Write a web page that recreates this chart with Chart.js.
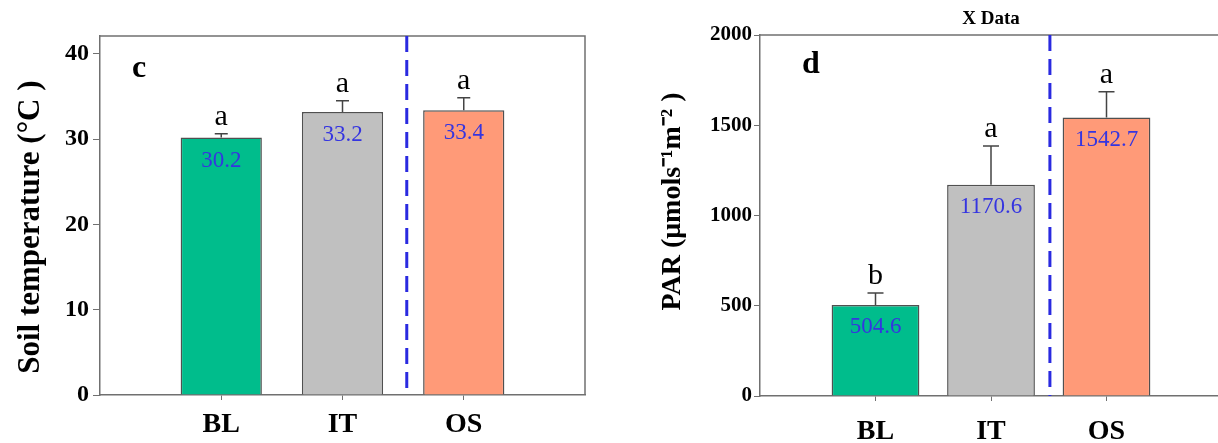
<!DOCTYPE html>
<html>
<head>
<meta charset="utf-8">
<script src="https://cdn.jsdelivr.net/npm/chart.js@4"></script>
<style>
  html, body { margin: 0; padding: 0; background: #fff; overflow: hidden; }
  body { width: 1218px; height: 443px; position: relative; }
  canvas { position: absolute; top: 0; }
  #tempChart { left: 0; }
  #parChart { left: 600px; }
</style>
</head>
<body>
<canvas id="tempChart" width="600" height="443"></canvas>
<canvas id="parChart" width="640" height="443"></canvas>
<script>
// data
const sites = ['BL', 'IT', 'OS'];
const barColors = ['#00bd8c', '#c0c0c0', '#ff9a78'];

const soilTemp = [30.2, 33.2, 33.4];
const soilTempErr = [0.45, 1.3, 1.45];
const soilTempLetters = ['a', 'a', 'a'];
const tempTicks = [0, 10, 20, 30, 40];

const par = [504.6, 1170.6, 1542.7];
const parErr = [66, 214, 143];
const parLetters = ['b', 'a', 'a'];
const parTicks = [0, 500, 1000, 1500, 2000];

const serif = '"Liberation Serif", "Times New Roman", serif';
const axisGray = '#707070';

// error bars, letters, value labels, divider and frame
const marksPlugin = {
  id: 'marks',
  afterDatasetsDraw(chart, args, opts) {
    const { ctx, chartArea: a, scales: { x, y } } = chart;
    ctx.save();

    ctx.strokeStyle = axisGray;
    ctx.lineWidth = 1.5;
    ctx.beginPath();
    ctx.moveTo(a.left, a.top);
    ctx.lineTo(a.right, a.top);
    ctx.lineTo(a.right, a.bottom);
    ctx.stroke();

    const dx = x.getPixelForValue(opts.divider);
    ctx.strokeStyle = '#2a2ae0';
    ctx.lineWidth = 3;
    ctx.setLineDash([16, 8]);
    ctx.beginPath();
    ctx.moveTo(dx, a.top);
    ctx.lineTo(dx, a.bottom);
    ctx.stroke();
    ctx.setLineDash([]);

    opts.values.forEach((v, i) => {
      const px = x.getPixelForValue(i + 1);
      const top = y.getPixelForValue(v);
      const cap = y.getPixelForValue(v + opts.errors[i]);

      ctx.strokeStyle = '#444';
      ctx.lineWidth = 1.5;
      ctx.beginPath();
      ctx.moveTo(px, top);
      ctx.lineTo(px, cap);
      ctx.moveTo(px - opts.capW / 2, cap);
      ctx.lineTo(px + opts.capW / 2, cap);
      ctx.stroke();

      ctx.fillStyle = '#3535e0';
      ctx.font = opts.valueSize + 'px ' + serif;
      ctx.textAlign = 'center';
      ctx.textBaseline = 'middle';
      ctx.fillText(v.toFixed(1), px, top + opts.valueGap);

      ctx.fillStyle = '#000';
      ctx.font = '30px ' + serif;
      ctx.textBaseline = 'alphabetic';
      ctx.fillText(opts.letters[i], px, cap - 9);
    });

    ctx.fillStyle = '#000';
    ctx.font = 'bold 32px ' + serif;
    ctx.textAlign = 'center';
    ctx.textBaseline = 'middle';
    ctx.fillText(opts.tag, a.left + opts.tagX, a.top + opts.tagY);

    ctx.restore();
  }
};

function makeChart(id, cfg) {
  const scales = {
    x: {
      type: 'linear',
      min: 0,
      max: 4,
      offset: false,
      afterBuildTicks: s => { s.ticks = sites.map((c, i) => ({ value: i + 1 })); },
      ticks: {
        callback: v => sites[v - 1],
        font: { family: serif, size: 28, weight: 'bold' },
        color: '#000',
        padding: cfg.xPad,
        autoSkip: false,
        maxRotation: 0
      },
      grid: { offset: false, drawOnChartArea: false, tickLength: 5, tickColor: axisGray },
      border: { color: axisGray, width: 1.5 },
      afterFit: s => { s.height = cfg.xHeight; }
    },
    y: {
      min: 0,
      max: cfg.yMax,
      afterBuildTicks: s => { s.ticks = cfg.ticks.map(v => ({ value: v })); },
      ticks: {
        callback: v => String(v),
        font: { family: serif, size: cfg.tickSize, weight: 'bold' },
        color: '#000',
        padding: cfg.yPad
      },
      grid: { drawOnChartArea: false, tickLength: cfg.tickLen, tickColor: axisGray },
      border: { color: axisGray, width: 1.5 },
      title: {
        display: true,
        text: cfg.title,
        font: { family: serif, size: cfg.titleSize, weight: 'bold' },
        color: '#000',
        padding: { top: cfg.titlePad, bottom: 0 }
      },
      afterFit: s => { s.width = cfg.yWidth; }
    }
  };
  if (cfg.topTitle) {
    scales.x2 = {
      type: 'linear',
      position: 'top',
      min: 0,
      max: 1,
      ticks: { display: false },
      grid: { display: false },
      border: { display: false },
      title: {
        display: true,
        text: cfg.topTitle,
        font: { family: serif, size: 19, weight: 'bold' },
        color: '#000',
        padding: { top: 8, bottom: 0 }
      },
      afterFit: s => { s.height = 35; }
    };
  }

  return new Chart(document.getElementById(id), {
    type: 'bar',
    data: {
      datasets: [{
        data: cfg.values.map((v, i) => ({ x: i + 1, y: v })),
        backgroundColor: barColors,
        borderColor: '#505050',
        borderWidth: 1.5,
        barPercentage: cfg.barPct,
        categoryPercentage: 1
      }]
    },
    options: {
      responsive: false,
      animation: false,
      layout: { padding: cfg.padding },
      scales: scales,
      plugins: {
        legend: { display: false },
        tooltip: { enabled: false },
        marks: {
          values: cfg.values,
          errors: cfg.errors,
          letters: cfg.letters,
          divider: cfg.divider,
          capW: cfg.capW,
          valueSize: 23,
          valueGap: cfg.valueGap,
          tag: cfg.tag,
          tagX: cfg.tagX,
          tagY: cfg.tagY
        }
      }
    },
    plugins: [marksPlugin]
  });
}

makeChart('tempChart', {
  values: soilTemp,
  errors: soilTempErr,
  letters: soilTempLetters,
  ticks: tempTicks,
  yMax: 42.1,
  title: 'Soil temperature (°C )   ',
  titleSize: 31,
  titlePad: 12,
  tickSize: 24,
  tickLen: 7,
  yPad: 4,
  yWidth: 100,
  xHeight: 48,
  xPad: 8,
  padding: { left: 0, top: 36, right: 15, bottom: 0 },
  barPct: 0.67,
  divider: 2.53,
  capW: 13,
  valueGap: 23,
  tag: 'c',
  tagX: 39,
  tagY: 33
});

makeChart('parChart', {
  values: par,
  errors: parErr,
  letters: parLetters,
  ticks: parTicks,
  yMax: 2000,
  title: '    PAR (μmols⁻¹m⁻² )',
  titleSize: 28,
  titlePad: 56,
  tickSize: 21,
  tickLen: 6,
  yPad: 2,
  yWidth: 160,
  xHeight: 47,
  xPad: 14,
  padding: { left: 0, top: 0, right: 18, bottom: 0 },
  barPct: 0.76,
  divider: 2.51,
  capW: 16,
  valueGap: 22,
  tag: 'd',
  tagX: 51,
  tagY: 30,
  topTitle: 'X Data'
});
</script>
</body>
</html>
